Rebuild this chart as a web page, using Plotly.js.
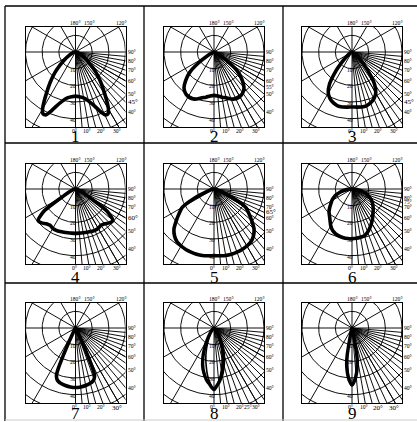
<!DOCTYPE html>
<html><head><meta charset="utf-8">
<script src="https://cdn.plot.ly/plotly-3.0.1.min.js"></script>
<style>html,body{margin:0;padding:0;background:#fff}#chart{width:417px;height:422px}</style>
</head><body><div id="chart"></div>
<script>
// ---- data (angle from nadir in degrees, intensity in ring units) ----
const cellNames = ['1','2','3','4','5','6','7','8','9'];
const ringValues = [10,20,30,40];
const topLabels = [180,150,120];

const angles1 = [0,5,10,15,20,22.5,25,27.5,30,32.5,35,40,45,50,55,60,70,80,90];
const intensity1 = [26.5,27,28,30.5,35,38.5,41.5,42,39.5,35,30.5,23.5,17.5,12,8,5,2,0.5,0];

const angles2 = [0,5,10,15,20,25,30,35,40,45,50,55,60,65,70,75,80,85,90];
const intensity2 = [26,26.5,27.5,28.5,30,31,31,30,28,24,19,11,4,1.5,0.5,0,0,0,0];

const angles3 = [0,5,10,15,20,25,30,35,40,45,50,55,60,65,70,75,80,85,90];
const intensity3 = [33,33.2,33.5,33.4,32.5,31,28.5,23.5,15.5,8,4,2,1,0.5,0,0,0,0,0];

const angles4 = [0,5,10,15,20,25,30,35,40,45,50,55,60,65,70,75,80,85,90];
const intensity4 = [26.6,26.6,26.7,26.9,27.2,27.4,27.3,26.6,27.2,28.8,29.3,23,8,4,2.5,1.5,0.5,0,0];

const angles5 = [0,5,10,15,20,25,30,35,40,45,50,55,60,65,70,75,80,85,90];
const intensity5 = [40,40.2,40.5,40.5,40.3,40,39.5,38.7,36.8,34,29.5,25.5,22,13,5,2.5,1,0.5,0];

const angles6 = [0,5,10,15,20,25,30,35,40,45,50,55,60,65,70,75,80,85,90];
const intensity6Left = [29.8,29.8,29.7,29.3,28.6,27.5,25.5,23,21,19.5,17.5,15.5,14,12,10,7.5,5,2.5,0];
const intensity6Right = [29.8,29.7,29.4,29,27.5,25.5,23.5,21.5,19.5,18,16.5,15,13.5,11.5,9.5,7,4.5,2.5,0];

const angles7 = [0,5,10,15,18,20,22,23,24,25,27,30,40,60,90];
const intensity7 = [35.7,35.5,35,34.3,33.6,32.6,30.5,26.5,18,9,3,1,0.5,0,0];

const angles8 = [0,2.5,5,7.5,10,15,20,25,30,35,40,50,60,90];
const intensity8Left = [37,35.5,33.5,32,30,25.5,19.8,13.5,8,4.5,2.5,1,0.3,0];
const intensity8Right = [37,35,33,30.5,28,22,16.5,11,6.5,3.5,2,0.7,0.2,0];
const intensity8Inner = [37,35,32,29,25.5,19,13,8,4.5,2.5,1.2,0.4,0,0];

const angles9 = [0,2.5,5,7.5,9,10,11,12.5,15,20,30,90];
const intensity9 = [34.3,32,28.5,24,20.5,17,10,4,2,1,0.3,0];
const intensity9Inner = [34.3,31.5,27,21,17,13,8,3.5,1.5,0.5,0,0];

const rightLabels = [
  [90,80,70,60,50,45,40],
  [90,80,70,60,55,50,40],
  [90,80,70,60,50,45,40],
  [90,80,70,60,50,40],
  [90,80,70,65,60,50,40],
  [90,80,75,70,60,50,40],
  [90,80,70,60,50,40],
  [90,80,70,60,50,40],
  [90,80,70,60,50,40]
];
const bottomLabels = [
  [0,10,20,30],[0,10,20,30],[0,10,20,30],
  [0,10,20,30],[0,10,20,30],[0,10,20,30],
  [0,10,20,30],[0,10,20,25,30],[0,10,20,30]
];
// larger-printed labels per cell (style)
const bigRight = [[45],[],[45],[60],[65],[],[],[],[]];
const bigBottom = [[],[],[],[],[],[],[30],[],[20,30]];

const curves = [
  [{a:angles1,l:intensity1,r:intensity1,w:3.6}],
  [{a:angles2,l:intensity2,r:intensity2,w:3.6}],
  [{a:angles3,l:intensity3,r:intensity3,w:3.6}],
  [{a:angles4,l:intensity4,r:intensity4,w:3.6}],
  [{a:angles5,l:intensity5,r:intensity5,w:3.6}],
  [{a:angles6,l:intensity6Left,r:intensity6Right,w:3.6}],
  [{a:angles7,l:intensity7,r:intensity7,w:3.6}],
  [{a:angles8,l:intensity8Left,r:intensity8Right,w:3.4},{a:angles8,l:intensity8Inner,r:intensity8Inner,w:1.6}],
  [{a:angles9,l:intensity9,r:intensity9,w:3.4},{a:angles9,l:intensity9Inner,r:intensity9Inner,w:1.6}]
];

// ---- layout geometry ----
const W = 417, H = 422, SQ = 100;
const colLeft = [25.5,164,302];
const rowTop = [27,164,303];
const numberY = [136,277,413];
const D = Math.PI/180;
const serif = 'Liberation Serif, Times New Roman, serif';

const traces = [];
const annotations = [];
const layout = {
  width: W, height: H, margin:{l:0,r:0,t:0,b:0},
  paper_bgcolor:'#fff', plot_bgcolor:'#fff', showlegend:false,
  font:{family:serif,color:'#000'}
};

function gridTrace(ax){
  const x=[], y=[];
  ringValues.concat([50]).forEach(r=>{
    for(let k=0;k<=180;k++){const t=k*2*D; x.push(r*Math.cos(t)); y.push(r*Math.sin(t));}
    x.push(null); y.push(null);
  });
  [0,30,60,90,120,150].forEach(a=>{
    x.push(-120*Math.sin(a*D), 120*Math.sin(a*D), null);
    y.push(120*Math.cos(a*D), -120*Math.cos(a*D), null);
  });
  for(let a=5;a<90;a+=5){
    x.push(0,120*Math.sin(a*D),null); y.push(0,-120*Math.cos(a*D),null);
  }
  return {type:'scatter',mode:'lines',x:x,y:y,xaxis:ax.x,yaxis:ax.y,
    line:{color:'#000',width:0.95},hoverinfo:'skip',connectgaps:false};
}

function curveTrace(ax,c){
  const x=[], y=[];
  for(let i=c.a.length-1;i>=0;i--){x.push(-c.l[i]*Math.sin(c.a[i]*D)); y.push(-c.l[i]*Math.cos(c.a[i]*D));}
  for(let i=1;i<c.a.length;i++){x.push(c.r[i]*Math.sin(c.a[i]*D)); y.push(-c.r[i]*Math.cos(c.a[i]*D));}
  return {type:'scatter',mode:'lines',x:x,y:y,xaxis:ax.x,yaxis:ax.y,
    line:{color:'#000',width:c.w,shape:'spline',smoothing:0.6},hoverinfo:'skip'};
}

for(let i=0;i<9;i++){
  const row=Math.floor(i/3), col=i%3;
  const sfx = i===0?'':String(i+1);
  const ax = {x:'x'+sfx, y:'y'+sfx};
  const common = {showgrid:false,zeroline:false,showticklabels:false,ticks:'',
    showline:true,mirror:true,linecolor:'#000',linewidth:1,fixedrange:true};
  layout['xaxis'+sfx] = Object.assign({},common,{domain:[colLeft[col]/W,(colLeft[col]+SQ)/W],range:[-30,30],anchor:'y'+sfx});
  layout['yaxis'+sfx] = Object.assign({},common,{domain:[1-(rowTop[row]+SQ)/H,1-rowTop[row]/H],range:[-45,15],anchor:'x'+sfx});
  traces.push(gridTrace(ax));
  curves[i].forEach(c=>traces.push(curveTrace(ax,c)));

  // map chart units to paper fraction for labels placed around the frame
  const px = u => (colLeft[col] + (u+30)/60*SQ)/W;
  const py = v => 1 - (rowTop[row] + (15-v)/60*SQ)/H;
  const A = (o,size)=>Object.assign({xref:'paper',yref:'paper',showarrow:false,borderpad:0,
    font:{family:serif,size:size||5.6,color:'#000'}},o);
  ringValues.forEach(r=>annotations.push(A({x:px(-1.4),y:py(-r-0.6),text:String(r),xanchor:'center',yanchor:'middle'})));
  topLabels.forEach(a=>{
    const xx = a===180?0:15*Math.tan((180-a)*D);
    annotations.push(A({x:px(xx+(a===120?1.5:0)),y:py(15.3),text:a+'°',xanchor:'center',yanchor:'bottom'}));
  });
  rightLabels[i].forEach(a=>{
    const yy = a===90?0:-30/Math.tan(a*D);
    const big = bigRight[i].indexOf(a)>=0;
    annotations.push(A({x:px(30.8),y:py(yy),text:a+'°',xanchor:'left',yanchor:'middle'},big?7:5.6));
  });
  bottomLabels[i].forEach(a=>{
    const xx = 45*Math.tan(a*D);
    const big = bigBottom[i].indexOf(a)>=0;
    annotations.push(A({x:px(xx-0.8),y:py(-45.2),text:a+'°',xanchor:'center',yanchor:'top'},big?7:5.6));
  });
  annotations.push({xref:'paper',yref:'paper',x:(colLeft[col]+SQ/2)/W,y:1-numberY[row]/H,
    text:cellNames[i],showarrow:false,xanchor:'center',yanchor:'middle',borderpad:0,
    font:{family:serif,size:17,color:'#000'}});
}
layout.annotations = annotations;

const shapes=[];
[5,144,283].forEach(p=>shapes.push({type:'line',xref:'paper',yref:'paper',x0:p/W,x1:p/W,y0:1-6/H,y1:1-421/H,line:{color:'#000',width:1.3}}));
[6,143,283].forEach(p=>shapes.push({type:'line',xref:'paper',yref:'paper',x0:5/W,x1:1,y0:1-p/H,y1:1-p/H,line:{color:'#000',width:1.3}}));
shapes.push({type:'line',xref:'paper',yref:'paper',x0:5/W,x1:1,y0:1-420/H,y1:1-420/H,line:{color:'#ccc',width:1}});
layout.shapes = shapes;

Plotly.newPlot('chart',traces,layout,{displayModeBar:false,staticPlot:true});
</script></body></html>
